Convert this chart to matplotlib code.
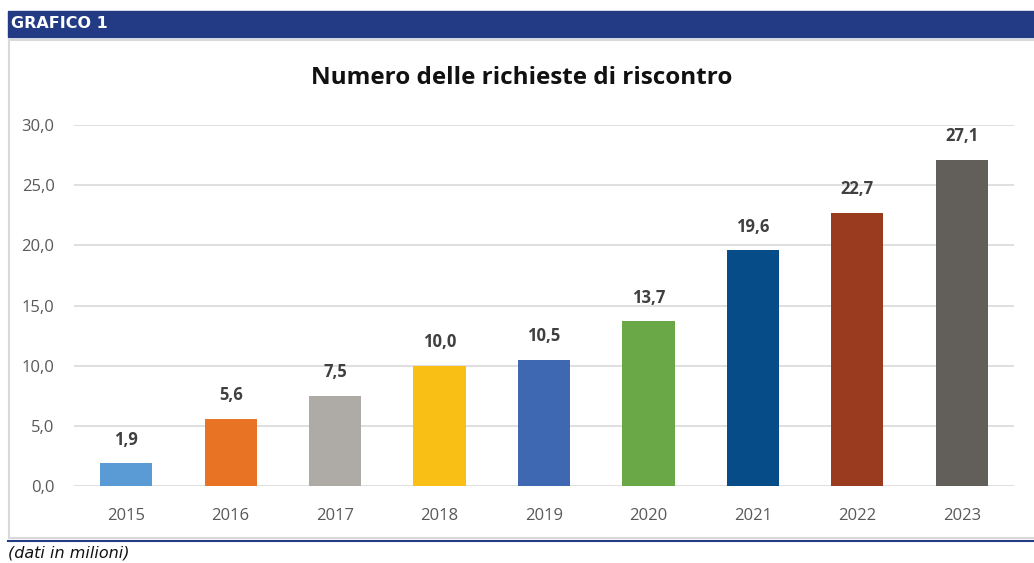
import matplotlib
matplotlib.use("Agg")
import matplotlib.pyplot as plt
from matplotlib.patches import Rectangle
from matplotlib.lines import Line2D

plt.rcParams["font.family"] = ["Open Sans", "DejaVu Sans"]

# dati -------------------------------------------------------------------------
anni = ["2015", "2016", "2017", "2018", "2019", "2020", "2021", "2022", "2023"]
richieste = [1.9, 5.6, 7.5, 10.0, 10.5, 13.7, 19.6, 22.7, 27.1]
colori = ["#5b9bd5", "#e97324", "#aeaaa6", "#f9bf14", "#3f68b3",
          "#6aa746", "#064c88", "#9a3b20", "#625e5a"]
y_ticks = [0, 5, 10, 15, 20, 25, 30]
# ------------------------------------------------------------------------------

fig = plt.figure(figsize=(10.34, 5.63), dpi=100)

# banda del titolo in alto
fig.patches.append(Rectangle((8 / 1034, 1 - 37 / 563), 1, 26 / 563,
                             transform=fig.transFigure, color="#233a84", zorder=-1))
fig.text(11 / 1034, 1 - 24 / 563, "GRAFICO 1", color="white", fontsize=11.5,
         fontweight="heavy", family="DejaVu Sans", va="center", ha="left")

# cornice del grafico
fig.patches.append(Rectangle((9 / 1034, 1 - 538 / 563), 1.0, 498 / 563,
                             transform=fig.transFigure, facecolor="white",
                             edgecolor="#d9d9d9", lw=1.5, zorder=-2))
fig.lines.append(Line2D([8 / 1034, 1], [1 - 541 / 563] * 2, color="#233a84",
                        lw=1.5, transform=fig.transFigure))
fig.text(8 / 1034, 1 - 553 / 563, "(dati in milioni)", fontsize=11.5,
         style="italic", family="DejaVu Sans", va="center", ha="left",
         color="#111111")

fig.text(522 / 1034, 1 - 78 / 563, "Numero delle richieste di riscontro",
         fontsize=17.5, fontweight="bold", ha="center", va="center", color="#111111")

ax = fig.add_axes([74 / 1034, 1 - 486 / 563, 940 / 1034, 361 / 563])
ax.set_zorder(2)
ax.patch.set_alpha(0)
x = range(len(anni))
bars = ax.bar(x, richieste, width=0.5, color=colori, zorder=3)

for xi, v in zip(x, richieste):
    ax.text(xi, v + 1.2, f"{v:.1f}".replace(".", ","), ha="center", va="bottom",
            fontsize=12, fontweight="bold", color="#404040")

ax.set_xlim(-0.5, len(anni) - 0.5)
ax.set_ylim(0, 30)
ax.set_yticks(y_ticks)
ax.set_yticklabels([f"{t:.1f}".replace(".", ",") for t in y_ticks])
ax.set_xticks(list(x))
ax.set_xticklabels(anni)
ax.tick_params(axis="both", length=0, labelsize=12, labelcolor="#595959")
ax.tick_params(axis="y", pad=14)
ax.tick_params(axis="x", pad=16)
ax.grid(axis="y", color="#d9d9d9", lw=1.2, zorder=0)
for s in ax.spines.values():
    s.set_visible(False)

fig.savefig("out.png", dpi=100)
